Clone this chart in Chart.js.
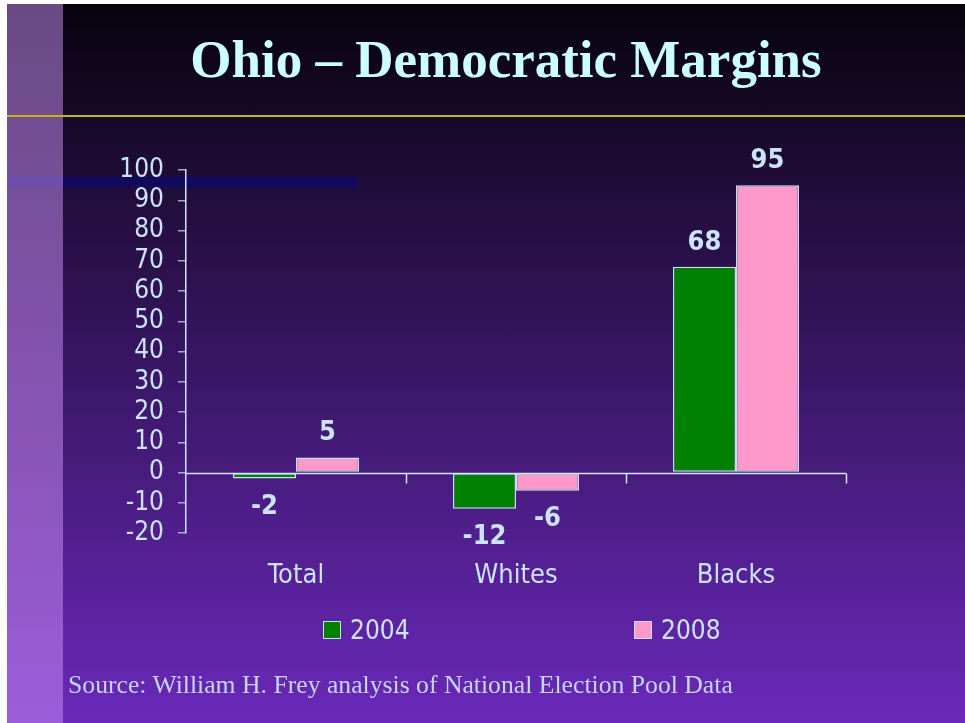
<!DOCTYPE html>
<html>
<head>
<meta charset="utf-8">
<title>Ohio – Democratic Margins</title>
<script src="https://cdn.jsdelivr.net/npm/chart.js@4.4.1/dist/chart.umd.min.js"></script>
<style>
  html, body { margin: 0; padding: 0; width: 965px; height: 723px; overflow: hidden; background: #ffffff; }
  #slide { position: absolute; left: 7px; top: 4px; width: 958px; height: 719px;
           background: linear-gradient(to bottom, #07030d 0%, #6a29ba 100%); }
  #band  { position: absolute; left: 7px; top: 176px; width: 350px; height: 12px; background: #130a5c; }
  #strip { position: absolute; left: 7px; top: 4px; width: 56px; height: 719px; background: rgba(205,146,250,0.5); }
  #rule  { position: absolute; left: 7px; top: 115px; width: 958px; height: 2px; background: #c9b31c; }
  #title { position: absolute; left: 0; width: 1012px; top: 33px; text-align: center;
           font: bold 53px "Liberation Serif", "Times New Roman", serif; line-height: 53px; color: #ccffff; white-space: nowrap; }
  #source { position: absolute; left: 68px; top: 672px; font: 25.7px "Liberation Serif", serif; line-height: 26px;
            color: #c8d4fa; white-space: nowrap; }
  #chartBox { position: absolute; left: 0; top: 0; width: 965px; height: 723px; }
  .lg { position: absolute; top: 616px; height: 28px; display: flex; align-items: center;
        font: 26px "DejaVu Sans Condensed", "DejaVu Sans", sans-serif; color: #cce4fa; white-space: nowrap; }
  .lg i { display: inline-block; width: 16px; height: 16px; border: 1px solid #c8e0ee; margin-right: 9px; }
</style>
</head>
<body>
<div id="slide"></div>
<div id="band"></div>
<div id="strip"></div>
<div id="rule"></div>
<div id="title">Ohio – Democratic Margins</div>
<div id="chartBox"><canvas id="chart" width="965" height="723"></canvas></div>
<div id="legend"></div>
<div id="source">Source: William H. Frey analysis of National Election Pool Data</div>

<script>
// Democratic margin (percentage points) by group
const categories = ['Total', 'Whites', 'Blacks'];
const seriesNames = ['2004', '2008'];
const margins2004 = [-2, -12, 68];
const margins2008 = [5, -6, 95];
const yTicks = [100, 90, 80, 70, 60, 50, 40, 30, 20, 10, 0, -10, -20];

const seriesColors = ['#008000', '#ff99cc'];
const lightText = '#cce4fa';
const axisColor = '#cfe6f6';
const axisFont = "'DejaVu Sans Condensed', 'DejaVu Sans', sans-serif";

// Zero baseline with downward tick marks between categories
const zeroLine = {
  id: 'zeroLine',
  afterDatasetsDraw(chart) {
    const { ctx, chartArea, scales } = chart;
    const y0 = Math.round(scales.y.getPixelForValue(0)) + 0.5;
    ctx.save();
    ctx.strokeStyle = axisColor;
    ctx.lineWidth = 1.5;
    ctx.beginPath();
    ctx.moveTo(chartArea.left, y0);
    ctx.lineTo(chartArea.right, y0);
    for (let i = 0; i < categories.length; i++) {
      const x = Math.round(scales.x.getPixelForValue(i + 0.5)) + 0.5;
      ctx.moveTo(x, y0);
      ctx.lineTo(x, y0 + 10);
    }
    ctx.stroke();
    ctx.restore();
  }
};

// Value labels above positive bars and below negative ones
const valueLabels = {
  id: 'valueLabels',
  afterDatasetsDraw(chart) {
    const { ctx } = chart;
    ctx.save();
    ctx.font = 'bold 27px ' + axisFont;
    ctx.fillStyle = lightText;
    ctx.textAlign = 'center';
    ctx.textBaseline = 'middle';
    chart.data.datasets.forEach((ds, di) => {
      chart.getDatasetMeta(di).data.forEach((bar, i) => {
        const v = ds.data[i];
        const y = v >= 0 ? bar.y - 24 : bar.y + 28;
        ctx.fillText(String(v), bar.x, y);
      });
    });
    ctx.restore();
  }
};

const chart = new Chart(document.getElementById('chart'), {
  type: 'bar',
  data: {
    labels: categories,
    datasets: [
      { label: seriesNames[0], data: margins2004, backgroundColor: seriesColors[0] },
      { label: seriesNames[1], data: margins2008, backgroundColor: seriesColors[1] }
    ]
  },
  options: {
    responsive: false,
    animation: false,
    devicePixelRatio: 1,
    layout: { padding: { left: 96, right: 119, top: 170, bottom: 130 } },
    datasets: {
      bar: {
        categoryPercentage: 0.573,
        barPercentage: 1.0,
        borderColor: '#c4e2ee',
        borderWidth: 1.5,
        borderSkipped: false
      }
    },
    plugins: {
      legend: { display: false },
      title: { display: false },
      tooltip: { enabled: false }
    },
    scales: {
      x: {
        grid: { display: false, drawTicks: false },
        border: { display: false },
        ticks: { color: lightText, font: { family: axisFont, size: 27 }, padding: 27 },
        afterFit(scale) { scale.height = 60; }
      },
      y: {
        min: -20,
        max: 100,
        afterBuildTicks(scale) { scale.ticks = yTicks.map(v => ({ value: v })); },
        grid: { drawOnChartArea: false, drawTicks: true, tickLength: 8, color: 'rgba(200,220,245,0.75)', lineWidth: 1.5 },
        border: { display: true, color: axisColor, width: 1.5 },
        ticks: { color: lightText, font: { family: axisFont, size: 26 }, padding: 14, autoSkip: false },
        afterFit(scale) { scale.width = 90; }
      }
    }
  },
  plugins: [zeroLine, valueLabels]
});

// Legend built from the chart's datasets
const legendLeft = [323, 634];
const legend = document.getElementById('legend');
chart.data.datasets.forEach((ds, i) => {
  const item = document.createElement('div');
  item.className = 'lg';
  item.style.left = legendLeft[i] + 'px';
  const sw = document.createElement('i');
  sw.style.background = ds.backgroundColor;
  item.appendChild(sw);
  item.appendChild(document.createTextNode(ds.label));
  legend.appendChild(item);
});
</script>
</body>
</html>
